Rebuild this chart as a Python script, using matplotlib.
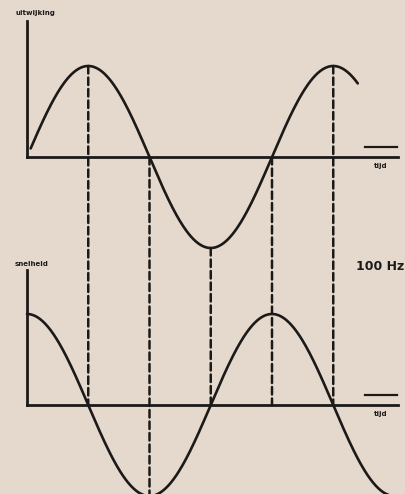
import numpy as np
import matplotlib.pyplot as plt
from matplotlib.patches import ConnectionPatch

# Trilling van 100 Hz: uitwijking en snelheid tegen de tijd (t in ms)
freq_hz = 100
amplitude = 1.0
t_disp_range = (0.15, 13.5)  # stuk van de uitwijkingskromme
t_vel_range = (0.0, 14.9)    # stuk van de snelheidskromme
axis_end = 15.15             # einde van de tijd-as

# Gestippelde verbindingslijnen: tijdstip, hoogte boven, hoogte onder
dash_times = [2.5, 5.0, 7.5, 10.0, 12.5]
dash_top = [1.0, 0.0, -1.0, 0.0, 1.0]
dash_bottom = [0.0, -1.0, 0.0, 0.0, 0.0]

label_top = 'uitwijking'
label_bottom = 'snelheid'
label_time = 'tijd'
label_freq = '100 Hz'

paper = '#e4d9cc'
ink = '#1c1a19'

W, H = 406, 494
fig = plt.figure(figsize=(W / 100, H / 100), dpi=100, facecolor=paper)

px_per_ms = 24.5
px_per_amp = 91
x0 = 27
xlim = (-x0 / px_per_ms, (W - x0) / px_per_ms)

# boven: pixel 0..260, nul-lijn op 157 ; onder: pixel 260..494, nul-lijn op 405
ax1 = fig.add_axes([0, 1 - 260 / H, 1, 260 / H])
ax1.set_ylim(-(260 - 157) / px_per_amp, 157 / px_per_amp)
ax2 = fig.add_axes([0, 0, 1, (H - 260) / H])
ax2.set_ylim(-(H - 405) / px_per_amp, (405 - 260) / px_per_amp)

t1 = np.linspace(*t_disp_range, 400)
t2 = np.linspace(*t_vel_range, 400)
w = 2 * np.pi * freq_hz / 1000
ax1.plot(t1, amplitude * np.sin(w * t1), color=ink, lw=1.9, solid_capstyle='round')
ax2.plot(t2, amplitude * np.cos(w * t2), color=ink, lw=1.9, solid_capstyle='round')

for ax, ytop in [(ax1, 1.5), (ax2, 1.48)]:
    ax.set_xlim(*xlim)
    ax.set_facecolor('none')
    ax.set_xticks([])
    ax.set_yticks([])
    for s in ['top', 'right']:
        ax.spines[s].set_visible(False)
    ax.spines['left'].set_position(('data', 0))
    ax.spines['bottom'].set_position(('data', 0))
    ax.spines['left'].set_bounds(0, ytop)
    ax.spines['bottom'].set_bounds(0, axis_end)
    for s in ['left', 'bottom']:
        ax.spines[s].set_linewidth(2.0)
        ax.spines[s].set_color(ink)
    # kort streepje boven 'tijd'
    ax.plot([(365 - x0) / px_per_ms, (397 - x0) / px_per_ms], [10 / px_per_amp] * 2,
            color=ink, lw=1.6)
    ax.text((381 - x0) / px_per_ms, -9 / px_per_amp, label_time, ha='center', va='center',
            fontsize=5, fontweight='bold', color=ink)

for t, ya, yb in zip(dash_times, dash_top, dash_bottom):
    con = ConnectionPatch(xyA=(t, ya), coordsA=ax1.transData,
                          xyB=(t, yb), coordsB=ax2.transData,
                          color=ink, lw=1.8, linestyle=(0, (3, 1.6)))
    fig.add_artist(con)

fig.text(35 / W, 1 - 13 / H, label_top, ha='center', va='center',
         fontsize=5, fontweight='bold', color=ink)
fig.text(32 / W, 1 - 264 / H, label_bottom, ha='center', va='center',
         fontsize=5, fontweight='bold', color=ink)
fig.text(356 / W, 1 - 266 / H, label_freq, ha='left', va='center',
         fontsize=9, fontweight='bold', color=ink)

fig.savefig('out.png', dpi=100, facecolor=paper)
